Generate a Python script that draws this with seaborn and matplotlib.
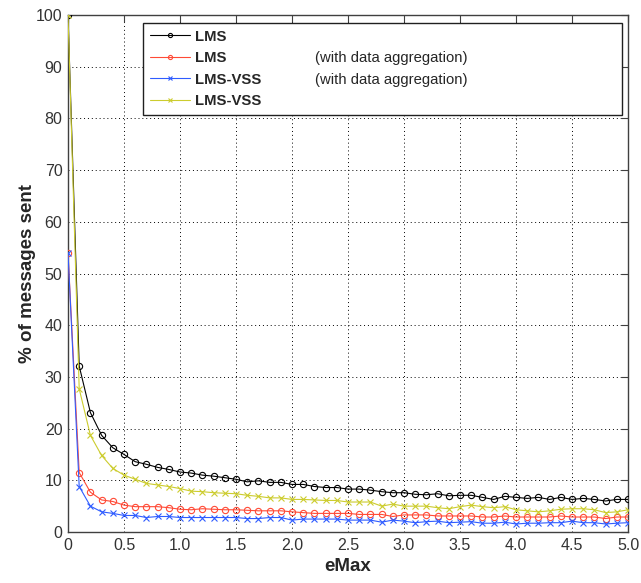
import numpy as np
import pandas as pd
import matplotlib
matplotlib.use("Agg")
import matplotlib.pyplot as plt
from matplotlib.lines import Line2D
import seaborn as sns

# eMax steps (0 .. 5 by 0.1)
emax = np.round(np.linspace(0, 5, 51), 1)

lms = [100, 32.1, 23.1, 18.7, 16.3, 15.0, 13.6, 13.1, 12.5, 12.1,
       11.6, 11.4, 11.0, 10.8, 10.5, 10.2, 9.7, 9.9, 9.6, 9.6,
       9.2, 9.2, 8.8, 8.6, 8.6, 8.3, 8.3, 8.1, 7.8, 7.6,
       7.6, 7.3, 7.2, 7.4, 7.0, 7.1, 7.1, 6.7, 6.3, 6.9,
       6.7, 6.5, 6.7, 6.3, 6.7, 6.3, 6.5, 6.3, 6.0, 6.3, 6.3]
lms_agg = [54.0, 11.5, 7.7, 6.2, 5.9, 5.2, 4.9, 4.9, 4.9, 4.7,
           4.4, 4.3, 4.5, 4.4, 4.3, 4.3, 4.2, 4.1, 4.1, 4.1,
           3.9, 3.75, 3.6, 3.6, 3.6, 3.6, 3.4, 3.4, 3.4, 3.0,
           3.3, 3.3, 3.3, 3.1, 3.1, 3.1, 3.1, 2.9, 2.9, 3.1,
           2.9, 2.9, 2.9, 2.9, 3.1, 2.9, 2.9, 2.9, 2.6, 2.9, 2.9]
vss_agg = [54.0, 8.8, 5.0, 3.9, 3.6, 3.2, 3.2, 2.8, 3.0, 3.0,
           2.8, 2.8, 2.8, 2.8, 2.8, 2.8, 2.6, 2.6, 2.8, 2.8,
           2.3, 2.5, 2.5, 2.5, 2.5, 2.3, 2.3, 2.3, 1.9, 2.3,
           2.1, 1.8, 2.0, 2.1, 1.8, 1.9, 2.0, 1.7, 1.7, 1.9,
           1.55, 1.7, 1.7, 1.8, 1.8, 2.1, 1.8, 1.8, 1.55, 1.7, 1.8]
vss = [100, 27.7, 18.7, 14.8, 12.3, 11.0, 10.2, 9.4, 9.1, 8.8,
       8.4, 7.9, 7.8, 7.6, 7.5, 7.4, 7.1, 6.9, 6.6, 6.6,
       6.3, 6.3, 6.2, 6.1, 6.1, 5.8, 5.8, 5.8, 5.0, 5.4,
       5.0, 5.0, 5.0, 4.7, 4.5, 4.9, 5.2, 4.9, 4.7, 4.9,
       4.3, 4.1, 3.9, 4.1, 4.4, 4.5, 4.5, 4.3, 3.75, 3.9, 4.3]

series_names = ["LMS", "LMS", "LMS-VSS", "LMS-VSS"]
series_notes = ["", "(with data aggregation)", "(with data aggregation)", ""]
series_values = [lms, lms_agg, vss_agg, vss]
colors = ["#000000", "#ff4a36", "#2f5cff", "#cccc2e"]
markers = ["o", "o", "x", "x"]

x_ticks = [0, 0.5, 1.0, 1.5, 2.0, 2.5, 3.0, 3.5, 4.0, 4.5, 5.0]
x_ticklabels = ["0", "0.5", "1.0", "1.5", "2.0", "2.5", "3.0", "3.5", "4.0", "4.5", "5.0"]
y_ticks = [0, 10, 20, 30, 40, 50, 60, 70, 80, 90, 100]

sns.set_style("white")
plt.rcParams["font.family"] = ["Liberation Sans", "DejaVu Sans"]

fig = plt.figure(figsize=(6.41, 5.83), dpi=100)
ax = fig.add_axes([68 / 641, 51 / 583, 560 / 641, 517 / 583])

handles = []
for i, vals in enumerate(series_values):
    df = pd.DataFrame({"eMax": emax, "pct": vals})
    sns.lineplot(data=df, x="eMax", y="pct", ax=ax, color=colors[i],
                 marker=markers[i], markersize=4.5, linewidth=0.8,
                 markerfacecolor="none", markeredgecolor=colors[i],
                 markeredgewidth=0.8, sort=False, legend=False, zorder=3 + i)
    handles.append(Line2D([], [], color=colors[i], marker=markers[i],
                          markersize=3, linewidth=0.8, markerfacecolor="none",
                          markeredgewidth=0.8))

ax.set_xlim(0, 5)
ax.set_ylim(0, 100)
ax.set_xticks(x_ticks)
ax.set_xticklabels(x_ticklabels)
ax.set_yticks(y_ticks)
ax.tick_params(direction="in", length=5, width=0.8, top=True, right=True,
               labelsize=11.5, color="#404040", labelcolor="#333333", pad=4)
for s in ax.spines.values():
    s.set_visible(True)
    s.set_color("#404040")
    s.set_linewidth(1.0)
ax.grid(True, color="black", linestyle=(0, (1, 3)), linewidth=0.7)
ax.set_axisbelow(True)

ax.set_xlabel("eMax", fontsize=13.5, fontweight="bold", labelpad=4)
ax.set_ylabel("% of messages sent", fontsize=13.5, fontweight="bold", labelpad=0)

leg = ax.legend(handles, series_names, loc="upper left",
                bbox_to_anchor=(0.134, 0.81, 0.855, 0.1745), mode="expand",
                borderaxespad=0, prop={"weight": "bold", "size": 10.7},
                frameon=True, fancybox=False, framealpha=1, edgecolor="#202020",
                handlelength=2.7, handletextpad=0.35, labelspacing=0.5,
                borderpad=0.45)
leg.get_frame().set_linewidth(1.0)
leg.set_zorder(10)

fig.canvas.draw()
inv = fig.transFigure.inverted()
for txt, note in zip(leg.get_texts(), series_notes):
    if not note:
        continue
    bb = txt.get_window_extent()
    _, yc = inv.transform((0, (bb.y0 + bb.y1) / 2))
    fig.text(315 / 641, yc, note, fontsize=10.7, va="center", ha="left",
             zorder=11)

fig.savefig("out.png", dpi=100)
